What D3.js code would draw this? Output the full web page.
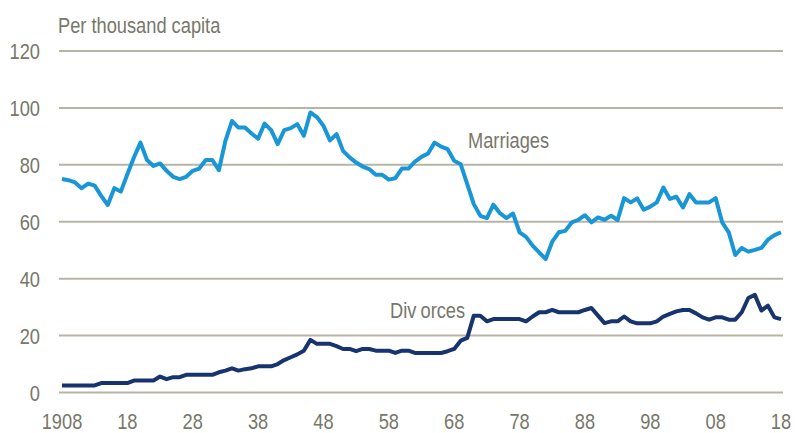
<!DOCTYPE html>
<html>
<head>
<meta charset="utf-8">
<script src="https://cdn.jsdelivr.net/npm/d3@7"></script>
<style>
  html, body { margin: 0; padding: 0; background: #fff; }
  svg text { font-family: "Liberation Sans", Arial, sans-serif; fill: #77776a; font-size: 22px; }
</style>
</head>
<body>
<svg id="chart" width="795" height="433"></svg>
<script>
const startYear = 1908;
const endYear = 2018;
const years = d3.range(startYear, endYear + 1);

const marriages = [
  75.0, 74.6, 73.8, 71.8, 73.4, 72.7, 69.1, 65.9, 71.8, 70.6,
  76.7, 82.6, 87.8, 81.7, 79.6, 80.5, 77.9, 75.8, 75.0, 75.8,
  77.9, 78.7, 81.7, 81.7, 78.1, 88.4, 95.4, 93.1, 93.1, 91.0,
  89.2, 94.5, 92.2, 87.3, 92.2, 92.9, 94.3, 90.2, 98.4, 96.8,
  93.7, 88.6, 90.8, 84.9, 82.6, 80.8, 79.4, 78.5, 76.5, 76.5,
  74.8, 75.3, 78.7, 78.7, 81.1, 82.8, 84.0, 87.8, 86.4, 85.5,
  81.4, 80.2, 73.2, 66.2, 62.1, 61.3, 66.0, 63.0, 61.3, 62.9,
  56.3, 54.7, 51.6, 49.2, 46.9, 53.0, 56.3, 56.8, 59.8, 60.7,
  62.3, 59.8, 61.5, 60.7, 62.1, 60.6, 68.3, 66.8, 68.2, 64.2,
  65.3, 66.8, 72.0, 68.0, 68.8, 65.0, 69.7, 66.8, 66.8, 66.8,
  68.3, 59.8, 56.3, 48.3, 50.8, 49.5, 50.1, 50.8, 53.7, 55.3, 56.3
];

const divorces = [
  2.5, 2.5, 2.5, 2.5, 2.5, 2.5, 3.3, 3.3, 3.3, 3.3,
  3.3, 4.2, 4.2, 4.2, 4.2, 5.6, 4.7, 5.4, 5.4, 6.2,
  6.2, 6.2, 6.2, 6.2, 7.1, 7.7, 8.5, 7.7, 8.2, 8.5,
  9.2, 9.2, 9.2, 10.0, 11.4, 12.4, 13.4, 14.7, 18.5, 17.1,
  17.1, 17.1, 16.3, 15.3, 15.3, 14.5, 15.3, 15.3, 14.7, 14.7,
  14.7, 13.9, 14.7, 14.7, 13.9, 13.9, 13.9, 13.9, 13.9, 14.5,
  15.3, 18.2, 19.2, 27.0, 27.0, 25.0, 25.8, 25.8, 25.8, 25.8,
  25.8, 25.0, 26.7, 28.2, 28.2, 29.0, 28.2, 28.2, 28.2, 28.2,
  29.0, 29.7, 27.0, 24.4, 25.0, 25.0, 26.7, 25.0, 24.3, 24.3,
  24.3, 25.0, 26.7, 27.6, 28.5, 29.0, 29.0, 27.8, 26.4, 25.6,
  26.4, 26.4, 25.6, 25.6, 28.2, 33.2, 34.3, 28.8, 30.5, 26.4, 25.8
];

const yTicks = [0, 20, 40, 60, 80, 100, 120];
const xTickYears = [1908, 1918, 1928, 1938, 1948, 1958, 1968, 1978, 1988, 1998, 2008, 2018];
const xTickLabels = ["1908", "18", "28", "38", "48", "58", "68", "78", "88", "98", "08", "18"];

const unitLabel = "Per thousand capita";
const seriesLabels = ["Marriages", "Divorces"];

const svg = d3.select("#chart");

const x = d3.scaleLinear().domain([startYear, endYear]).range([62, 781]);
const y = d3.scaleLinear().domain([0, 120]).range([392.5, 51]);

const gridColor = "#b7b4a6";
const NARROW = 0.83;
const place = (px, py) => `translate(${px},${py}) scale(${NARROW},1)`;

// gridlines
svg.append("g").selectAll("line")
  .data(yTicks)
  .join("line")
  .attr("x1", 59).attr("x2", 783)
  .attr("y1", d => y(d)).attr("y2", d => y(d))
  .attr("stroke", gridColor)
  .attr("stroke-width", 2);

// y tick labels
svg.append("g").selectAll("text")
  .data(yTicks)
  .join("text")
  .attr("transform", d => place(40, y(d) + 8))
  .attr("text-anchor", "end")
  .text(d => d);

// x tick labels
svg.append("g").selectAll("text")
  .data(xTickYears)
  .join("text")
  .attr("transform", d => place(x(d), 429))
  .attr("text-anchor", "middle")
  .text((d, i) => xTickLabels[i]);

// unit label
svg.append("text")
  .attr("transform", place(58, 33))
  .text(unitLabel);

const line = d3.line()
  .x((d, i) => x(years[i]))
  .y(d => y(d));

svg.append("path")
  .datum(marriages)
  .attr("d", line)
  .attr("fill", "none")
  .attr("stroke", "#1996d6")
  .attr("stroke-width", 4)
  .attr("stroke-linejoin", "round");

svg.append("path")
  .datum(divorces)
  .attr("d", line)
  .attr("fill", "none")
  .attr("stroke", "#18346f")
  .attr("stroke-width", 4)
  .attr("stroke-linejoin", "round");

// series labels
svg.append("text")
  .attr("transform", place(468, 148))
  .text(seriesLabels[0]);

const dl = svg.append("text")
  .attr("transform", place(390, 318));
dl.append("tspan").text(seriesLabels[1].slice(0, 3));
dl.append("tspan").attr("dx", 5).text(seriesLabels[1].slice(3));
</script>
</body>
</html>
